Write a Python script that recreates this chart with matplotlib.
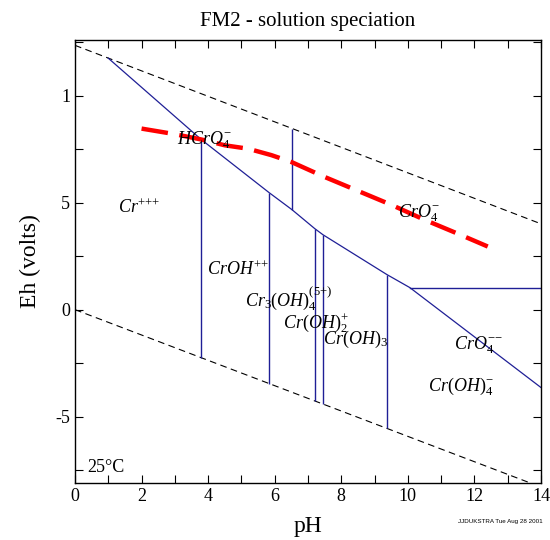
import matplotlib
matplotlib.use("Agg")
import matplotlib.pyplot as plt
from matplotlib.ticker import MultipleLocator, FixedLocator, FixedFormatter

plt.rcParams['font.family'] = ['Liberation Serif', 'DejaVu Serif']
plt.rcParams['mathtext.fontset'] = 'custom'
plt.rcParams['mathtext.rm'] = 'Liberation Serif'
plt.rcParams['mathtext.it'] = 'Liberation Serif:italic'

water_ph = [0.0, 14.0]
o2_eh = [1.235, 0.401]
h2_eh = [0.0, -0.829]

# main sloping boundary
diag_ph = [1.0, 3.8, 5.83, 6.52, 7.2, 7.45, 9.37, 10.06, 14.0]
diag_eh = [1.175, 0.794, 0.547, 0.467, 0.379, 0.35, 0.164, 0.103, -0.364]

# vertical boundaries
vert_ph = [3.8, 5.83, 6.52, 7.2, 7.45, 9.37]
vert_top = [0.794, 0.547, 0.844, 0.379, 0.35, 0.164]
vert_bot = [-0.224, -0.346, 0.467, -0.426, -0.441, -0.555]

# horizontal boundary
horiz_ph = [10.06, 14.0]
horiz_eh = [0.103, 0.103]

# red dashed line
red_ph = [2.0, 3.0, 3.8, 4.5, 5.2, 5.9, 6.5, 7.5, 8.5, 9.5, 10.5, 11.5, 12.4]
red_eh = [0.846, 0.82, 0.795, 0.768, 0.752, 0.722, 0.69, 0.62, 0.555, 0.49, 0.42, 0.355, 0.295]

# species labels
labels = [r'$Cr^{{+}{+}{+}}$', r'$HCrO_4^{-}$', r'$CrO_4^{-}$', r'$CrOH^{{+}{+}}$',
          r'$Cr_3(OH)_4^{(5{+})}$', r'$Cr(OH)_2^{+}$', r'$Cr(OH)_3$',
          r'$CrO_4^{{-}{-}}$', r'$Cr(OH)_4^{-}$']
label_ph = [1.29, 3.06, 9.7, 3.96, 5.1, 6.25, 7.45, 11.4, 10.6]
label_eh = [0.453, 0.771, 0.43, 0.164, 0.014, -0.089, -0.16, -0.187, -0.379]

ytick_vals = [1.0, 0.5, 0.0, -0.5]
ytick_labels = ['1', '5', '0', '-5']
xtick_vals = [0, 2, 4, 6, 8, 10, 12, 14]

fig = plt.figure(figsize=(5.5, 5.4), dpi=100)
ax = fig.add_axes([75/550, 1-483/540, (541-75)/550, (483-40)/540])

blue = '#1f1f96'
ax.plot(water_ph, o2_eh, color='black', lw=0.8, dashes=(6, 4))
ax.plot(water_ph, h2_eh, color='black', lw=0.8, dashes=(6, 4))
ax.plot(diag_ph, diag_eh, color=blue, lw=0.9)
ax.vlines(vert_ph, vert_bot, vert_top, color=blue, lw=1.0)
ax.plot(horiz_ph, horiz_eh, color=blue, lw=1.0)
ax.plot(red_ph, red_eh, color='#ff0000', lw=3.2, dashes=(6, 2.6))

for t, x, y in zip(labels, label_ph, label_eh):
    ax.text(x, y, t, fontsize=13, ha='left', va='baseline', color='black')
ax.text(0.36, -0.757, '25°C', fontsize=13, ha='left', va='baseline')

ax.set_xlim(0, 14)
ax.set_ylim(-0.81, 1.26)
ax.xaxis.set_major_locator(FixedLocator(xtick_vals))
ax.xaxis.set_minor_locator(MultipleLocator(1))
ax.yaxis.set_major_locator(FixedLocator(ytick_vals))
ax.yaxis.set_major_formatter(FixedFormatter(ytick_labels))
ax.yaxis.set_minor_locator(MultipleLocator(0.25))
ax.tick_params(which='both', direction='in', top=True, right=True, labelsize=13, width=0.8)
ax.tick_params(which='major', length=6)
ax.tick_params(which='minor', length=6)
for s in ax.spines.values():
    s.set_linewidth(1.0)

ax.set_title('FM2 - solution speciation', fontsize=15, pad=10)
ax.set_xlabel('pH', fontsize=17, labelpad=8)
ax.set_ylabel('Eh (volts)', fontsize=17, labelpad=10)
fig.text(458/550, 1-521/540, 'JJDUKSTRA Tue Aug 28 2001', fontsize=4.5,
         family='Liberation Sans', ha='left', va='center')

fig.savefig('out.png', dpi=100)
